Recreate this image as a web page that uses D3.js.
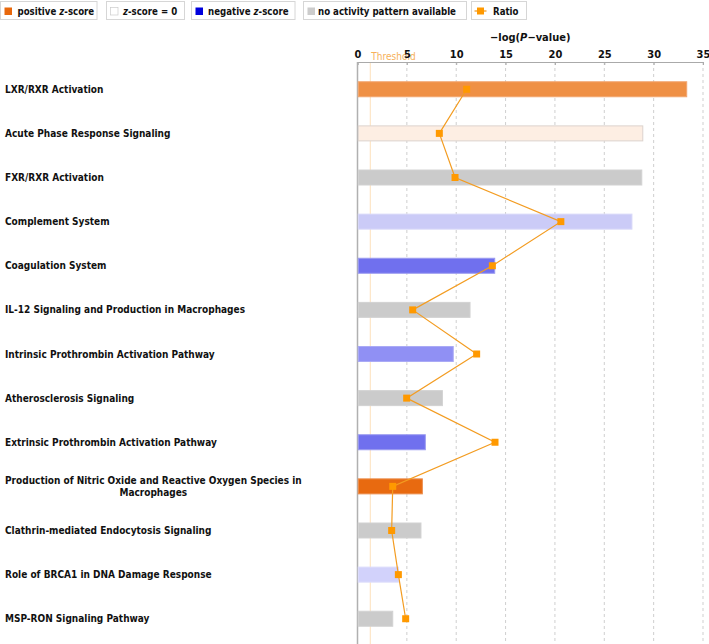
<!DOCTYPE html>
<html><head><meta charset="utf-8">
<script src="https://cdn.jsdelivr.net/npm/d3@7"></script>
<style>body{margin:0;background:#fff;} svg{display:block;}</style>
</head><body>
<script>
const categories = [
  "LXR/RXR Activation",
  "Acute Phase Response Signaling",
  "FXR/RXR Activation",
  "Complement System",
  "Coagulation System",
  "IL-12 Signaling and Production in Macrophages",
  "Intrinsic Prothrombin Activation Pathway",
  "Atherosclerosis Signaling",
  "Extrinsic Prothrombin Activation Pathway",
  "Production of Nitric Oxide and Reactive Oxygen Species in|Macrophages",
  "Clathrin-mediated Endocytosis Signaling",
  "Role of BRCA1 in DNA Damage Response",
  "MSP-RON Signaling Pathway"
];
const negLogP = [33.35, 28.9, 28.8, 27.8, 13.9, 11.4, 9.7, 8.6, 6.87, 6.57, 6.43, 4.14, 3.57];
const ratio = [0.1106, 0.0829, 0.0988, 0.2060, 0.1366, 0.0559, 0.1207, 0.0498, 0.1393, 0.0357, 0.0346, 0.0414, 0.0488];
const zGroup = ["pos1", "zero", "na", "neg4", "neg1", "na", "neg2", "na", "neg1", "pos0", "na", "neg5", "na"];
const xTicks = [0, 5, 10, 15, 20, 25, 30, 35];
const threshold = 1.3;
const legendItems = ["positive z-score", "z-score = 0", "negative z-score", "no activity pattern available", "Ratio"];

const fills = {pos0:"#e86a10", pos1:"#ef9045", zero:"#fdeee3", neg1:"#7070ee", neg2:"#9090f4", neg4:"#cbcbf7", neg5:"#d2d2fb", na:"#cbcbcb"};
const strokes = {pos0:"#eb8d4c", pos1:"#f2a670", zero:"#dcd3ce", neg1:"#9a9af0", neg2:"#aaaaf5", neg4:"#d8d8f8", neg5:"#dcdcfb", na:"#d2d2d2"};

const W = 709, H = 644;
const svg = d3.select("body").append("svg").attr("width", W).attr("height", H);
const FONT = "'DejaVu Sans Condensed','DejaVu Sans',sans-serif";

const x = d3.scaleLinear().domain([0, 35]).range([357.5, 703]);
const xr = d3.scaleLinear().domain([0, 0.35]).range([357.5, 703]);
const y = d3.scaleBand().domain(d3.range(categories.length)).range([67.2, 640.8]).paddingInner(0.66).paddingOuter(0.33);

// Legend
const legendBoxes = [[0.5, 96.5], [106.5, 78], [191.5, 103.5], [303.5, 163], [471.5, 55]];
const legendTx = [17, 16.5, 16.5, 14.5, 21.5];
const legendSw = ["#e8680c", "#ffffff", "#0000dd", "#cccccc", null];
const lg = svg.append("g");
legendItems.forEach((t, i) => {
  const [bx, bw] = legendBoxes[i];
  const g = lg.append("g").attr("transform", `translate(${bx},1.5)`);
  g.append("rect").attr("width", bw).attr("height", 18).attr("fill", "#fff").attr("stroke", "#d6d6d6");
  if (legendSw[i]) {
    g.append("rect").attr("x", 4).attr("y", 6).attr("width", 7.5).attr("height", 7.5)
      .attr("fill", legendSw[i]).attr("stroke", i === 1 ? "#ccc" : "none").attr("stroke-width", 0.7);
  } else {
    g.append("line").attr("x1", 3).attr("x2", 15).attr("y1", 9.5).attr("y2", 9.5).attr("stroke", "#f39c21").attr("stroke-width", 1.3);
    g.append("rect").attr("x", 5.5).attr("y", 6).attr("width", 7).attr("height", 7).attr("fill", "#ff9900");
  }
  const tx = g.append("text").attr("x", legendTx[i]).attr("y", 13)
    .attr("font-family", FONT).attr("font-weight", "bold").attr("font-size", 9.6).attr("fill", "#111");
  const parts = t.split("z-score");
  if (parts.length > 1) {
    tx.append("tspan").text(parts[0]);
    tx.append("tspan").attr("font-style", "italic").text("z");
    tx.append("tspan").text("-score" + parts[1]);
  } else tx.text(t);
});

// Axis title
const title = svg.append("text").attr("x", (x(0)+x(35))/2).attr("y", 41).attr("text-anchor", "middle")
  .attr("font-family", FONT).attr("font-weight", "bold").attr("font-size", 11).attr("fill", "#111");
title.append("tspan").text("\u2212log(");
title.append("tspan").attr("font-style", "italic").text("P");
title.append("tspan").text("\u2212value)");

// Gridlines
svg.append("g").selectAll("line").data(xTicks.slice(1)).join("line")
  .attr("x1", d => x(d)).attr("x2", d => x(d)).attr("y1", 62).attr("y2", H)
  .attr("stroke", "#cfcfcf").attr("stroke-dasharray", "3,3").attr("stroke-width", 1);

// Threshold
svg.append("line").attr("x1", x(threshold)).attr("x2", x(threshold)).attr("y1", 62).attr("y2", H)
  .attr("stroke", "#fde6c6").attr("stroke-width", 1.2);
svg.append("text").attr("x", x(threshold)+1).attr("y", 60).attr("font-family", FONT)
  .attr("font-size", 10).attr("fill", "#f6b05a").text("Threshold");

// Axis
const ax = svg.append("g").attr("transform", "translate(0,62)")
  .call(d3.axisTop(x).tickValues(xTicks).tickSize(-3).tickPadding(6).tickFormat(d3.format("d")));
ax.select(".domain").attr("stroke", "#aaa");
ax.selectAll(".tick line").attr("stroke", "#aaa");
ax.selectAll(".tick text").attr("font-family", FONT).attr("font-weight", "bold").attr("font-size", 11).attr("fill", "#111");
ax.selectAll(".tick text").attr("dy", "0.2em");

svg.append("line").attr("x1", x(0)).attr("x2", x(0)).attr("y1", 62).attr("y2", H)
  .attr("stroke", "#b0b0b0").attr("stroke-width", 1.5);

// Bars
svg.append("g").selectAll("rect").data(negLogP).join("rect")
  .attr("x", x(0)+0.75).attr("y", (d, i) => y(i))
  .attr("width", d => x(d) - x(0) - 0.75).attr("height", y.bandwidth())
  .attr("fill", (d, i) => fills[zGroup[i]]).attr("stroke", (d, i) => strokes[zGroup[i]]).attr("stroke-width", 1);

// Labels
const lab = svg.append("g");
categories.forEach((c, i) => {
  const lines = c.split("|");
  const cy = y(i) + y.bandwidth()/2;
  if (lines.length === 1) {
    lab.append("text").attr("x", 5).attr("y", cy).attr("dy", "0.35em")
      .attr("font-family", FONT).attr("font-weight", "bold").attr("font-size", 10).attr("fill", "#111").text(c);
  } else {
    const t = lab.append("text").attr("font-family", FONT).attr("font-weight", "bold").attr("font-size", 10).attr("fill", "#111");
    t.append("tspan").attr("x", 5).attr("y", cy - 6).attr("dy", "0.35em").text(lines[0]);
    const w0 = t.node().getComputedTextLength();
    t.append("tspan").attr("x", 5 + w0/2).attr("y", cy + 6).attr("dy", "0.35em").attr("text-anchor", "middle").text(lines[1]);
  }
});

// Ratio line
const line = d3.line().x(d => xr(d[0])).y(d => y(d[1]) + y.bandwidth()/2);
const pts = ratio.map((r, i) => [r, i]);
svg.append("path").datum(pts).attr("d", line).attr("fill", "none").attr("stroke", "#f39c21").attr("stroke-width", 1.2);
svg.append("g").selectAll("rect").data(pts).join("rect")
  .attr("x", d => xr(d[0]) - 3.5).attr("y", d => y(d[1]) + y.bandwidth()/2 - 3.5)
  .attr("width", 7).attr("height", 7).attr("fill", "#ff9900");
</script>
</body></html>
